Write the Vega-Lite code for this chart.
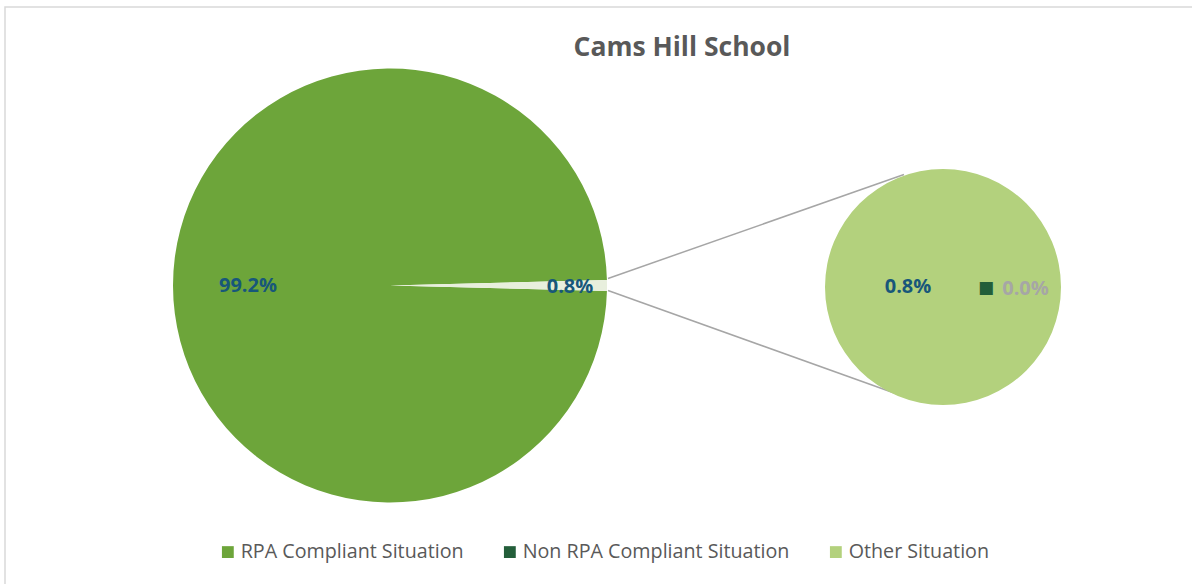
{
  "$schema": "https://vega.github.io/schema/vega-lite/v6.json",
  "width": 1192,
  "height": 584,
  "autosize": {"type": "none"},
  "padding": 0,
  "background": "white",
  "title": {
    "text": "Cams Hill School",
    "anchor": "middle",
    "dx": 86,
    "dy": 65,
    "fontSize": 26.5,
    "font": "Open Sans",
    "fontWeight": "bold",
    "color": "#595959"
  },
  "config": {
    "view": {"stroke": null},
    "legend": {
      "orient": "none",
      "legendX": 218,
      "legendY": 542,
      "direction": "horizontal",
      "symbolType": "square",
      "symbolSize": 140,
      "symbolStrokeWidth": 0,
      "labelFontSize": 19.7,
      "labelFont": "Open Sans",
      "labelColor": "#595959",
      "labelLimit": 600,
      "columnPadding": 36,
      "labelOffset": 3,
      "title": null
    }
  },
  "datasets": {
    "main": [
      {"category": "RPA Compliant Situation", "value": 99.2, "label": "99.2%"},
      {"category": "Other Situation", "value": 0.8, "label": "0.8%"}
    ],
    "sub": [
      {"category": "Other Situation", "value": 0.8, "label": "0.8%"},
      {"category": "Non RPA Compliant Situation", "value": 0.0, "label": "0.0%"}
    ]
  },
  "layer": [
    {
      "data": {"values": [{}]},
      "layer": [
        {"mark": {"type": "rect", "fill": "transparent", "stroke": "#d9d9d9", "strokeWidth": 1.5}, "encoding": {"x": {"value": 5}, "y": {"value": 7}, "x2": {"value": 1205}, "y2": {"value": 600}}},
        {"mark": {"type": "rule", "stroke": "#a6a6a6", "strokeWidth": 1.5}, "encoding": {"x": {"value": 608}, "y": {"value": 278.5}, "x2": {"value": 904}, "y2": {"value": 174.5}}},
        {"mark": {"type": "rule", "stroke": "#a6a6a6", "strokeWidth": 1.5}, "encoding": {"x": {"value": 608}, "y": {"value": 290.5}, "x2": {"value": 904}, "y2": {"value": 396.5}}}
      ]
    },
    {
      "data": {"name": "main"},
      "layer": [
        {
          "mark": {"type": "arc", "x": 390, "y": 285.5, "outerRadius": 217},
          "encoding": {
            "theta": {"field": "value", "type": "quantitative", "stack": true, "scale": {"range": [1.5457, 7.8289]}},
            "order": {"field": "value", "sort": "ascending"},
            "color": {
              "condition": {"test": "datum.category === 'Other Situation'", "value": "#e8efdd"},
              "field": "category",
              "type": "nominal",
              "scale": {
                "domain": ["RPA Compliant Situation", "Non RPA Compliant Situation", "Other Situation"],
                "range": ["#6da53a", "#235e3a", "#b3d17d"]
              }
            }
          }
        },
        {
          "mark": {"type": "text", "x": 390, "y": 286.5, "radius": 142, "font": "Open Sans", "fontWeight": "bold", "fontSize": 20, "fill": "#17577a"},
          "encoding": {
            "theta": {"field": "value", "type": "quantitative", "stack": true},
            "order": {"field": "value", "sort": "ascending"},
            "text": {"condition": {"test": "datum.category === 'RPA Compliant Situation'", "field": "label"}, "value": ""}
          }
        },
        {
          "mark": {"type": "text", "x": 390, "y": 286.5, "radius": 180, "font": "Open Sans", "fontWeight": "bold", "fontSize": 20, "fill": "#17577a"},
          "encoding": {
            "theta": {"field": "value", "type": "quantitative", "stack": true},
            "order": {"field": "value", "sort": "ascending"},
            "text": {"condition": {"test": "datum.category === 'Other Situation'", "field": "label"}, "value": ""}
          }
        }
      ]
    },
    {
      "data": {"name": "sub"},
      "layer": [
        {
          "mark": {"type": "arc", "x": 943, "y": 287, "outerRadius": 118},
          "encoding": {
            "theta": {"field": "value", "type": "quantitative", "stack": true, "scale": {"range": [1.5708, 7.854]}},
            "order": {"field": "value", "sort": "ascending"},
            "color": {"field": "category", "type": "nominal"}
          }
        },
        {
          "mark": {"type": "text", "x": 943, "y": 287, "radius": 35, "font": "Open Sans", "fontWeight": "bold", "fontSize": 20, "fill": "#17577a"},
          "encoding": {
            "theta": {"field": "value", "type": "quantitative", "stack": true},
            "order": {"field": "value", "sort": "ascending"},
            "text": {"condition": {"test": "datum.category === 'Other Situation'", "field": "label"}, "value": ""}
          }
        },
        {
          "mark": {"type": "text", "x": 943, "y": 288.5, "radius": 82.5, "font": "Open Sans", "fontWeight": "bold", "fontSize": 20, "fill": "#a6a6a6"},
          "encoding": {
            "theta": {"field": "value", "type": "quantitative", "stack": true},
            "order": {"field": "value", "sort": "ascending"},
            "text": {"condition": {"test": "datum.category === 'Non RPA Compliant Situation'", "field": "label"}, "value": ""}
          }
        },
        {
          "mark": {"type": "text", "x": 943, "y": 288, "radius": 43, "font": "DejaVu Sans", "fontSize": 17, "fill": "#235e3a"},
          "encoding": {
            "theta": {"field": "value", "type": "quantitative", "stack": true},
            "order": {"field": "value", "sort": "ascending"},
            "text": {"condition": {"test": "datum.category === 'Non RPA Compliant Situation'", "value": "■"}, "value": ""}
          }
        }
      ]
    }
  ],
  "resolve": {"scale": {"theta": "independent"}}
}
